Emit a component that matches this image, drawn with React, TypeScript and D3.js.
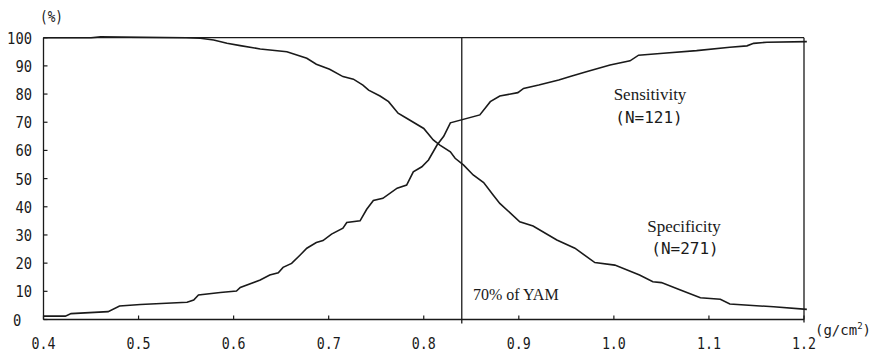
import React from "react";
import * as d3 from "d3";

const xTicks = [0.4, 0.5, 0.6, 0.7, 0.8, 0.9, 1.0, 1.1, 1.2];
const xTickLabels = ["0.4", "0.5", "0.6", "0.7", "0.8", "0.9", "1.0", "1.1", "1.2"];
const yTicks = [0, 10, 20, 30, 40, 50, 60, 70, 80, 90, 100];

const sensX = [0.400, 0.423, 0.429, 0.468, 0.480, 0.502, 0.551, 0.558, 0.563, 0.586, 0.603, 0.607, 0.628, 0.638, 0.647, 0.652, 0.661, 0.670, 0.677, 0.687, 0.694, 0.703, 0.715, 0.719, 0.733, 0.740, 0.747, 0.757, 0.772, 0.782, 0.789, 0.798, 0.805, 0.814, 0.821, 0.828, 0.859, 0.870, 0.880, 0.899, 0.905, 0.921, 0.942, 0.954, 0.971, 0.996, 1.017, 1.026, 1.052, 1.087, 1.122, 1.140, 1.147, 1.161, 1.203];
const sensY = [1.2, 1.2, 2.1, 2.8, 4.8, 5.3, 6.1, 6.9, 8.7, 9.6, 10.1, 11.4, 14.0, 15.8, 16.6, 18.5, 19.9, 22.9, 25.3, 27.3, 28.0, 30.3, 32.4, 34.4, 35.0, 39.1, 42.2, 43.0, 46.6, 47.7, 52.4, 54.2, 56.6, 61.9, 65.0, 69.8, 72.6, 77.3, 79.3, 80.5, 82.0, 83.2, 85.0, 86.2, 87.9, 90.3, 91.8, 93.8, 94.5, 95.4, 96.6, 97.1, 98.0, 98.4, 98.6];

const specX = [0.400, 0.450, 0.460, 0.550, 0.565, 0.579, 0.593, 0.607, 0.628, 0.656, 0.677, 0.687, 0.701, 0.715, 0.726, 0.736, 0.742, 0.754, 0.763, 0.773, 0.782, 0.800, 0.810, 0.817, 0.828, 0.833, 0.842, 0.852, 0.863, 0.873, 0.880, 0.901, 0.915, 0.940, 0.959, 0.980, 1.001, 1.027, 1.041, 1.050, 1.070, 1.091, 1.112, 1.122, 1.168, 1.203];
const specY = [100, 100, 100.3, 100, 99.8, 99.2, 98.0, 97.2, 96.0, 95.0, 92.7, 90.6, 88.8, 86.2, 85.3, 83.2, 81.4, 79.3, 77.3, 73.2, 71.4, 67.8, 63.7, 61.9, 59.5, 57.2, 54.8, 51.3, 48.6, 44.2, 41.2, 34.7, 33.2, 28.2, 25.3, 20.2, 19.3, 15.8, 13.4, 13.1, 10.5, 7.7, 7.2, 5.5, 4.5, 3.6];

const cutoff = 0.84;

const W = 873;
const H = 361;

export default function App() {
  const x = d3.scaleLinear().domain([0.4, 1.2]).range([43.5, 804]);
  const y = d3.scaleLinear().domain([0, 100]).range([319.5, 37.7]);
  const line = d3
    .line<[number, number]>()
    .x((d) => x(d[0]))
    .y((d) => y(d[1]))
    .curve(d3.curveLinear);
  const sens = sensX.map((v, i) => [v, sensY[i]] as [number, number]);
  const spec = specX.map((v, i) => [v, specY[i]] as [number, number]);
  const ink = "#1a1a1a";
  const mono = "'DejaVu Sans Mono', 'Liberation Mono', monospace";
  const serif = "'Liberation Serif', 'DejaVu Serif', serif";

  return (
    <svg
      width={W}
      height={H}
      style={{ position: "absolute", left: 0, top: 0, background: "#fff" }}
    >
      {/* frame */}
      <line x1={x(0.4)} x2={x(1.2)} y1={y(100)} y2={y(100)} stroke={ink} strokeWidth={1.3} />
      <line x1={x(0.4)} x2={x(1.2)} y1={y(0)} y2={y(0)} stroke={ink} strokeWidth={1.3} />
      <line x1={x(0.4)} x2={x(0.4)} y1={y(100)} y2={y(0)} stroke={ink} strokeWidth={1.3} />
      <line x1={x(1.2)} x2={x(1.2)} y1={y(100)} y2={y(0) + 3} stroke={ink} strokeWidth={1.3} />
      {/* x ticks */}
      {xTicks.map((t, i) => (
        <g key={"xt" + i}>
          <line x1={x(t)} x2={x(t)} y1={y(0)} y2={y(0) - 4} stroke={ink} strokeWidth={1.2} />
          <text
            x={x(t)}
            y={349}
            textAnchor="middle"
            fontFamily={mono}
            fontSize={15}
            textLength={24}
            lengthAdjust="spacingAndGlyphs"
            fill={ink}
          >
            {xTickLabels[i]}
          </text>
        </g>
      ))}
      {/* y ticks */}
      {yTicks.map((t, i) => {
        const s = String(t);
        return (
          <g key={"yt" + i}>
            <line x1={x(0.4)} x2={x(0.4) + 4} y1={y(t)} y2={y(t)} stroke={ink} strokeWidth={1.2} />
            <text
              x={t === 0 ? 13 : 32}
              y={y(t) + 6}
              textAnchor={t === 0 ? "start" : "end"}
              fontFamily={mono}
              fontSize={16}
              textLength={s.length * 8.3}
              lengthAdjust="spacingAndGlyphs"
              fill={ink}
            >
              {s}
            </text>
          </g>
        );
      })}
      {/* cutoff line */}
      <line x1={x(cutoff)} x2={x(cutoff)} y1={y(100)} y2={y(0) + 4} stroke={ink} strokeWidth={1.3} />
      {/* curves */}
      <path d={line(sens) || ""} fill="none" stroke={ink} strokeWidth={1.6} />
      <path d={line(spec) || ""} fill="none" stroke={ink} strokeWidth={1.6} />
      {/* labels */}
      <text x={40} y={22} fontFamily={mono} fontSize={15} textLength={23} lengthAdjust="spacingAndGlyphs" fill={ink}>(%)</text>
      <text x={815} y={335} fontFamily={mono} fontSize={14} fill={ink}>
        (g/cm<tspan dy={-6} fontSize={9}>2</tspan><tspan dy={6}>)</tspan>
      </text>
      <text x={650} y={100} textAnchor="middle" fontFamily={serif} fontSize={17} fill={ink}>Sensitivity</text>
      <text x={649} y={123} textAnchor="middle" fontFamily={mono} fontSize={16} fill={ink}>(N=121)</text>
      <text x={684} y={232} textAnchor="middle" fontFamily={serif} fontSize={17} fill={ink}>Specificity</text>
      <text x={685} y={254} textAnchor="middle" fontFamily={mono} fontSize={16} fill={ink}>(N=271)</text>
      <text x={473} y={300} fontFamily={serif} fontSize={16} fill={ink}>70% of YAM</text>
    </svg>
  );
}
